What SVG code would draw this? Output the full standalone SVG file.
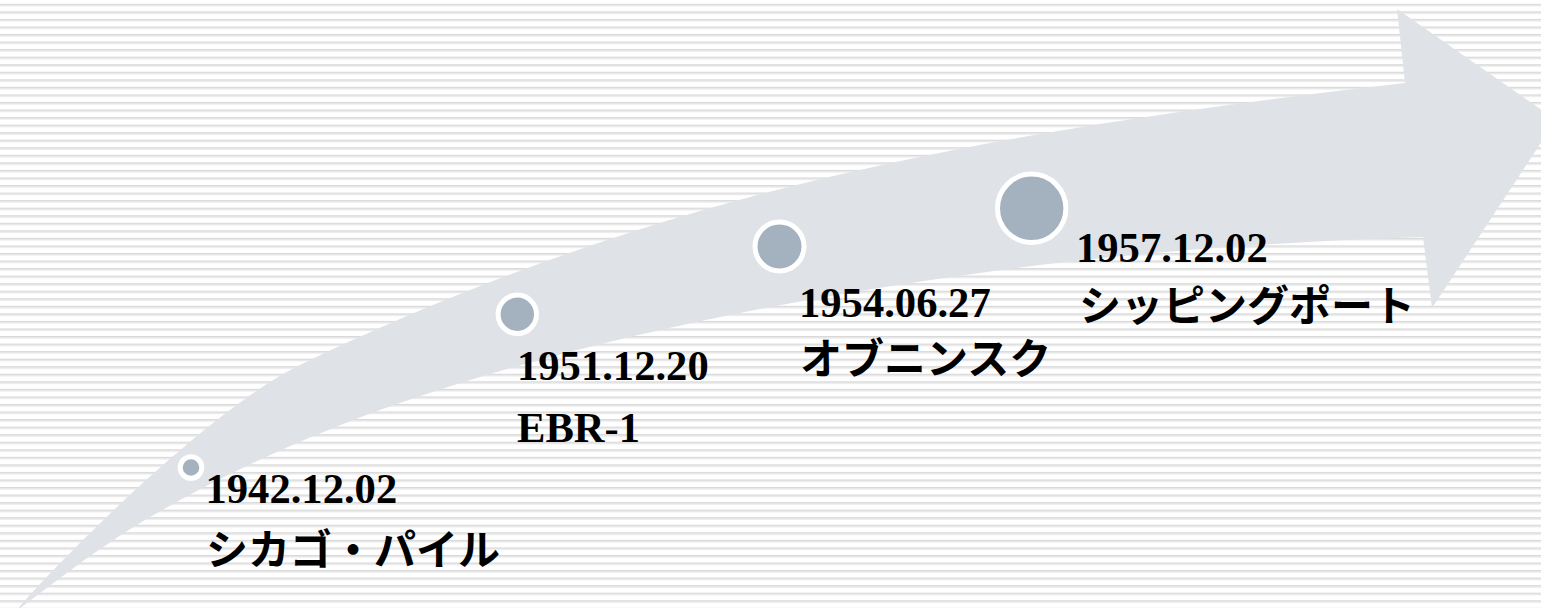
<svg xmlns="http://www.w3.org/2000/svg" width="1541" height="608" viewBox="0 0 1541 608">
  <defs>
    <pattern id="stripes" x="0" y="3.8" width="1541" height="7.55" patternUnits="userSpaceOnUse">
      <rect x="0" y="0" width="1541" height="1.6" fill="#d9d9d9"/>
      <rect x="0" y="1.6" width="1541" height="1" fill="#eaeaea"/>
    </pattern>
    <style>
      .band { fill: #dfe2e6; }
      .dot { fill: #a4b2c0; stroke: #ffffff; stroke-width: 5; }
      .date { font-family: "Liberation Serif", "Times New Roman", serif; font-weight: bold; font-size: 42.6px; fill: #000000; }
      .name { font-family: "Liberation Serif", "Noto Sans CJK JP", sans-serif; font-weight: bold; font-size: 42.6px; fill: #000000; }
      .kana { font-family: "Noto Sans CJK JP", sans-serif; font-weight: bold; font-size: 42px; fill: #000000; }
    </style>
  </defs>
  <rect x="0" y="0" width="1541" height="608" fill="#ffffff"/>
  <rect x="0" y="0" width="1541" height="608" fill="url(#stripes)"/>
  <g id="connectors">
    <path class="band" d="M15,612 C60,559 210,409 300,365 C430,301 570,249 700,211 C830,173 970,145 1100,124 C1200,108 1300,95 1405,83 L1397,9 L1556,120 L1432,308 L1423,237 C1275,242 1128,252 980,273 C813,296 647,327 480,377 C370,410 260,453 150,517 C105,543 60,578 15,612 Z"/>
  </g>
  <g id="node1">
    <circle class="dot" cx="191" cy="467.5" r="10.8"/>
    <text class="date" x="205.5" y="503">1942.12.02</text>
    <text class="kana" x="206" y="565">シカゴ・パイル</text>
  </g>
  <g id="node2">
    <circle class="dot" cx="517.3" cy="314.3" r="19.2"/>
    <text class="date" x="517" y="380">1951.12.20</text>
    <text class="name" x="517" y="441.7">EBR-1</text>
  </g>
  <g id="node3">
    <circle class="dot" cx="779.5" cy="246.5" r="24.5"/>
    <text class="date" x="799" y="316.7">1954.06.27</text>
    <text class="kana" x="800" y="374">オブニンスク</text>
  </g>
  <g id="node4">
    <circle class="dot" cx="1031.7" cy="208.3" r="34.2"/>
    <text class="date" x="1076" y="261.7">1957.12.02</text>
    <text class="kana" x="1079" y="321">シッピングポート</text>
  </g>
</svg>
